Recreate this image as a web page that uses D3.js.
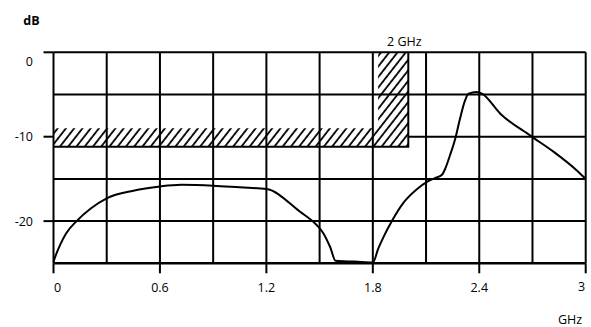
<!DOCTYPE html>
<html>
<head>
<meta charset="utf-8">
<script src="https://cdn.jsdelivr.net/npm/d3@7"></script>
<style>
  html, body { margin: 0; padding: 0; background: #fff; }
  svg text { font-family: "Open Sans", "DejaVu Sans", sans-serif; font-size: 12.5px; fill: #000; }
</style>
</head>
<body>
<svg id="chart" width="591" height="327"></svg>
<script>
// Filter response: frequency (GHz) and attenuation (dB)
const freqGHz = [0, 0.01, 0.04, 0.07, 0.13, 0.21, 0.3, 0.45, 0.6, 0.72, 0.9, 1.05, 1.2,
                 1.39, 1.48, 1.52, 1.56, 1.59, 1.7, 1.8,
                 1.83, 1.86, 1.91, 1.97, 2.05, 2.11, 2.15, 2.19, 2.21, 2.235, 2.265, 2.29, 2.32,
                 2.34, 2.385, 2.415, 2.52, 2.69, 2.82, 2.95, 3.0];
const responseDb = [-24.8, -24.2, -22.7, -21.5, -20.0, -18.5, -17.3, -16.4, -15.9, -15.7, -15.8, -16.0, -16.2,
                    -18.9, -20.4, -21.4, -23.1, -24.7, -24.8, -24.9,
                    -23.3, -21.9, -19.9, -17.9, -16.2, -15.3, -14.9, -14.5, -13.7, -12.2, -10.2, -8.0, -5.7,
                    -4.9, -4.7, -4.9, -7.3, -9.9, -11.8, -14.0, -15.0];

// Limit mask: band up to 2 GHz, plus the notch column just below it
const maskEdgeGHz = 2;
const maskColumnStartGHz = 1.83;
const maskBandTopDb = -9;
const maskBottomDb = -11.2;

// Axes
const xDomain = [0, 3];
const yDomain = [-25, 0];
const xGridGHz = [0, 0.3, 0.6, 0.9, 1.2, 1.5, 1.8, 2.1, 2.4, 2.7, 3];
const yGridDb = [0, -5, -10, -15, -20, -25];
const xTickGHz = [0, 0.6, 1.2, 1.8, 2.4, 3];
const xTickLabels = ["0", "0.6", "1.2", "1.8", "2.4", "3"];
const yTickDb = [0, -10, -20];
const yTickLabels = ["0", "-10", "-20"];

const svg = d3.select("#chart");
const x = d3.scaleLinear().domain(xDomain).range([53.5, 585.7]);
const y = d3.scaleLinear().domain(yDomain).range([263.3, 52.3]);

// Hatch pattern for the mask
const defs = svg.append("defs");
const pat = defs.append("pattern")
  .attr("id", "hatch")
  .attr("patternUnits", "userSpaceOnUse")
  .attr("width", 6.5).attr("height", 6.5)
  .attr("patternTransform", "rotate(38)");
pat.append("line")
  .attr("x1", 1).attr("y1", 0).attr("x2", 1).attr("y2", 6.5)
  .attr("stroke", "#000").attr("stroke-width", 1.8);

const grid = svg.append("g").attr("stroke", "#000").attr("stroke-width", 2).attr("fill", "none");

// Vertical grid lines
grid.selectAll("line.v").data(xGridGHz).join("line")
  .attr("class", "v")
  .attr("x1", d => x(d)).attr("x2", d => x(d))
  .attr("y1", y(0)).attr("y2", y(-25));

// Horizontal grid lines (the -10 dB line is covered by the mask up to its edge)
grid.selectAll("line.h").data(yGridDb).join("line")
  .attr("class", "h")
  .attr("x1", d => d === -10 ? x(maskEdgeGHz) : x(0))
  .attr("x2", x(3))
  .attr("y1", d => y(d)).attr("y2", d => y(d))
  .attr("stroke-width", d => d === -25 ? 2.6 : 2);

// Axis ticks
grid.selectAll("line.xt").data(xTickGHz).join("line")
  .attr("class", "xt")
  .attr("x1", d => x(d)).attr("x2", d => x(d))
  .attr("y1", y(-25)).attr("y2", y(-25) + 10);
grid.selectAll("line.yt").data(yTickDb).join("line")
  .attr("class", "yt")
  .attr("x1", x(0) - 10).attr("x2", x(0))
  .attr("y1", d => y(d)).attr("y2", d => y(d));

// Mask: hatched area with outline on the bottom and right
const maskPts = [
  [0, maskBandTopDb], [maskColumnStartGHz, maskBandTopDb], [maskColumnStartGHz, 0],
  [maskEdgeGHz, 0], [maskEdgeGHz, maskBottomDb], [0, maskBottomDb]
];
svg.append("path")
  .attr("d", d3.line().x(d => x(d[0])).y(d => y(d[1]))(maskPts) + "Z")
  .attr("fill", "url(#hatch)");
svg.append("path")
  .attr("d", d3.line().x(d => x(d[0])).y(d => y(d[1]))([[0, maskBottomDb], [maskEdgeGHz, maskBottomDb], [maskEdgeGHz, 0]]))
  .attr("fill", "none").attr("stroke", "#000").attr("stroke-width", 2);

// Response curve
const pts = freqGHz.map((f, i) => [f, responseDb[i]]);
svg.append("path")
  .attr("d", d3.line().x(d => x(d[0])).y(d => y(d[1])).curve(d3.curveMonotoneX)(pts))
  .attr("fill", "none").attr("stroke", "#000").attr("stroke-width", 2)
  .attr("stroke-linejoin", "round");

// Tick labels
svg.selectAll("text.xl").data(xTickGHz).join("text")
  .attr("class", "xl")
  .attr("x", (d, i) => x(d) + (i === 0 ? 4 : (i === xTickGHz.length - 1 ? -4 : 0)))
  .attr("y", (d, i) => i === xTickGHz.length - 1 ? 291 : 292)
  .attr("text-anchor", "middle")
  .text((d, i) => xTickLabels[i]);
svg.selectAll("text.yl").data(yTickDb).join("text")
  .attr("class", "yl")
  .attr("x", 33)
  .attr("y", d => y(d) + (d === 0 ? 14 : 4.5))
  .attr("text-anchor", "end")
  .text((d, i) => yTickLabels[i]);

// Unit and annotation labels
svg.append("text").attr("x", 31.5).attr("y", 24.5).attr("text-anchor", "middle")
  .style("font-weight", "bold").text("dB");
svg.append("text").attr("x", 570).attr("y", 324).attr("text-anchor", "middle").text("GHz");
svg.append("text").attr("x", x(maskEdgeGHz) - 4).attr("y", 46).attr("text-anchor", "middle").text("2 GHz");
</script>
</body>
</html>
